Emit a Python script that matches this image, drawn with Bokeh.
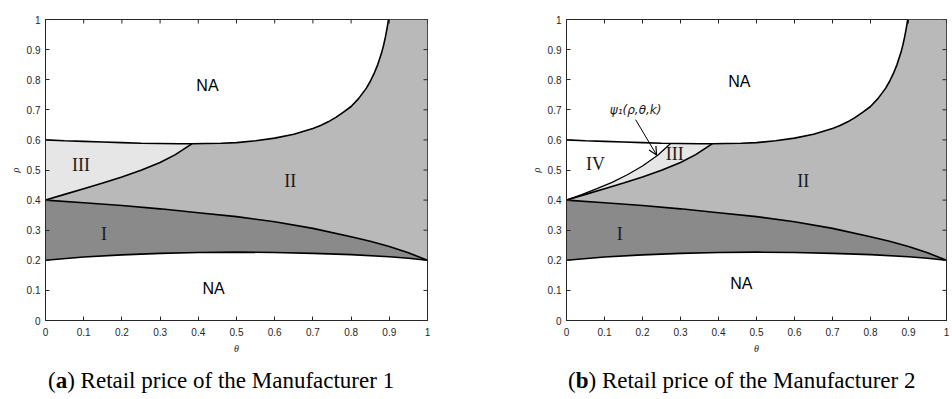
import numpy as np
from bokeh.plotting import figure
from bokeh.layouts import row, column
from bokeh.models import FixedTicker, Label, Arrow, OpenHead, Range1d, Div
from bokeh.embed import file_html
from bokeh.resources import INLINE

# ---------------- data ----------------
tick_vals = [0, 0.1, 0.2, 0.3, 0.4, 0.5, 0.6, 0.7, 0.8, 0.9, 1]
tick_labels = ["0", "0.1", "0.2", "0.3", "0.4", "0.5", "0.6", "0.7", "0.8", "0.9", "1"]

# upper boundary (lower edge of the top "NA" area)
upper_x = [0, 0.05, 0.1, 0.15, 0.2, 0.25, 0.3, 0.35, 0.383, 0.42, 0.46, 0.5, 0.55, 0.6,
           0.65, 0.7, 0.72, 0.74, 0.76, 0.78, 0.8, 0.82, 0.84, 0.85, 0.86, 0.87, 0.88,
           0.885, 0.89, 0.894, 0.898]
upper_y = [0.600, 0.597, 0.595, 0.593, 0.591, 0.589, 0.588, 0.587, 0.587, 0.588, 0.589, 0.591,
           0.597, 0.606, 0.619, 0.638, 0.648, 0.660, 0.675, 0.692, 0.711, 0.738, 0.772, 0.794,
           0.820, 0.851, 0.890, 0.914, 0.943, 0.970, 1.000]

# lower boundary (upper edge of the bottom "NA" area)
lower_x = [0, 0.1, 0.2, 0.3, 0.4, 0.5, 0.6, 0.7, 0.8, 0.9, 0.95, 1.0]
lower_y = [0.200, 0.211, 0.218, 0.223, 0.226, 0.227, 0.226, 0.223, 0.219, 0.212, 0.207, 0.200]

# boundary between regions I and II
mid_x = [0, 0.1, 0.2, 0.3, 0.4, 0.5, 0.6, 0.7, 0.8, 0.85, 0.9, 0.95, 1.0]
mid_y = [0.400, 0.391, 0.382, 0.371, 0.358, 0.345, 0.328, 0.306, 0.278, 0.263, 0.246, 0.225, 0.200]

# boundary between regions III and II
b32_x = [0, 0.05, 0.1, 0.15, 0.2, 0.25, 0.3, 0.34, 0.383]
b32_y = [0.400, 0.419, 0.438, 0.457, 0.477, 0.499, 0.525, 0.551, 0.587]

# psi_1(rho, theta, k) curve (panel b)
psi_x = [0, 0.04, 0.08, 0.12, 0.16, 0.2, 0.24, 0.274]
psi_y = [0.400, 0.418, 0.438, 0.459, 0.484, 0.513, 0.549, 0.588]

col_I = "#8a8a8a"
col_II = "#b9b9b9"
col_III = "#e6e6e6"
INK = "#262626"


def make_panel(width, left_border, right_border, with_psi):
    p = figure(width=width, height=358, output_backend="svg", toolbar_location=None,
               x_range=Range1d(0, 1), y_range=Range1d(0, 1),
               min_border_left=left_border, min_border_right=right_border,
               min_border_top=19, min_border_bottom=38)
    p.grid.visible = False
    p.outline_line_color = INK
    p.outline_line_width = 1
    p.background_fill_color = "white"
    p.border_fill_color = "white"

    overrides = dict(zip(tick_vals, tick_labels))
    for ax in (p.xaxis[0], p.yaxis[0]):
        ax.ticker = FixedTicker(ticks=tick_vals)
        ax.major_label_overrides = overrides
        ax.major_tick_in = 4
        ax.major_tick_out = 0
        ax.minor_tick_line_color = None
        ax.major_tick_line_color = INK
        ax.axis_line_color = INK
        ax.major_label_text_font = "Liberation Sans"
        ax.major_label_text_font_size = "10px"
        ax.major_label_text_color = INK
        ax.axis_label_text_font = "Liberation Serif"
        ax.axis_label_text_font_style = "italic"
        ax.axis_label_text_font_size = "10px"
        ax.axis_label_text_color = INK
    p.xaxis.axis_label = "θ"
    p.yaxis.axis_label = "ρ"
    p.xaxis.major_label_standoff = 7
    p.xaxis.axis_label_standoff = 4
    p.yaxis.major_label_standoff = 5
    p.yaxis.axis_label_standoff = 3

    ux = np.array(upper_x)
    uy = np.array(upper_y)
    k = upper_x.index(b32_x[-1])

    # region I
    p.patch(lower_x + mid_x[::-1], lower_y + mid_y[::-1], fill_color=col_I, line_color=None)
    # region II
    xs2 = mid_x + [1.0, 1.0] + list(ux[k:][::-1]) + b32_x[::-1]
    ys2 = mid_y + [0.200, 1.0] + list(uy[k:][::-1]) + b32_y[::-1]
    p.patch(xs2, ys2, fill_color=col_II, line_color=None)
    # region III
    if not with_psi:
        xs3 = b32_x + list(ux[:k + 1][::-1])
        ys3 = b32_y + list(uy[:k + 1][::-1])
    else:
        sel = ux[:k + 1] > psi_x[-1]
        xs3 = b32_x + list(ux[:k + 1][sel][::-1]) + psi_x[::-1]
        ys3 = b32_y + list(uy[:k + 1][sel][::-1]) + psi_y[::-1]
    p.patch(xs3, ys3, fill_color=col_III, line_color=None)

    lw = 1.6
    p.line(upper_x, upper_y, line_color="black", line_width=lw)
    p.line(lower_x, lower_y, line_color="black", line_width=lw)
    p.line(mid_x, mid_y, line_color="black", line_width=lw)
    p.line(b32_x, b32_y, line_color="black", line_width=lw)
    if with_psi:
        p.line(psi_x, psi_y, line_color="black", line_width=1.2)

    # inward tick marks on the top and right frame edges
    n = len(tick_vals)
    p.scatter(tick_vals, [1] * n, marker="dash", angle=np.pi / 2, size=8,
              line_color=INK, line_width=1)
    p.scatter([1] * n, tick_vals, marker="dash", size=8, line_color=INK, line_width=1)

    def lab(x, y, t, font, size, style="normal", color="black"):
        p.add_layout(Label(x=x, y=y, text=t, text_font=font, text_font_size=size,
                           text_font_style=style, text_align="center",
                           text_baseline="middle", text_color=color))

    if not with_psi:
        lab(0.424, 0.78, "NA", "Liberation Sans", "16px")
        lab(0.44, 0.106, "NA", "Liberation Sans", "16px")
        lab(0.093, 0.515, "III", "Liberation Serif", "18px", color="#1a1a1a")
        lab(0.641, 0.462, "II", "Liberation Serif", "18px", color="#1a1a1a")
        lab(0.153, 0.289, "I", "Liberation Serif", "18px", color="#1a1a1a")
    else:
        lab(0.455, 0.794, "NA", "Liberation Sans", "16px")
        lab(0.46, 0.123, "NA", "Liberation Sans", "16px")
        lab(0.076, 0.52, "IV", "Liberation Serif", "18px", color="#1a1a1a")
        lab(0.285, 0.554, "III", "Liberation Serif", "18px", color="#1a1a1a")
        lab(0.623, 0.462, "II", "Liberation Serif", "18px", color="#1a1a1a")
        lab(0.14, 0.289, "I", "Liberation Serif", "18px", color="#1a1a1a")
        lab(0.182, 0.70, "ψ₁(ρ,θ,k)", "DejaVu Sans", "12px", style="italic", color="#1a1a1a")
        p.add_layout(Arrow(x_start=0.182, y_start=0.667, x_end=0.237, y_end=0.55,
                           line_width=1, line_color="black",
                           end=OpenHead(size=8, line_width=1.2, line_color="black")))
    return p


def caption_div(width, indent, letter, caption):
    html = ('<div style="padding-top:11px;padding-left:%dpx;font-family:\'Liberation Serif\';'
            'font-size:23px;line-height:24px;color:#000;white-space:nowrap;">'
            '(<b>%s</b>) %s</div>' % (indent, letter, caption))
    return Div(text=html, width=width, height=35, margin=(0, 0, 0, 0))


p1 = make_panel(520, 45, 93, False)
p2 = make_panel(432, 46, 6, True)
d1 = caption_div(520, 48, "a", "Retail price of the Manufacturer 1")
d2 = caption_div(432, 48, "b", "Retail price of the Manufacturer 2")
layout = row(column(p1, d1, spacing=0), column(p2, d2, spacing=0), spacing=0)

open("out.html", "w").write(file_html(layout, INLINE))
